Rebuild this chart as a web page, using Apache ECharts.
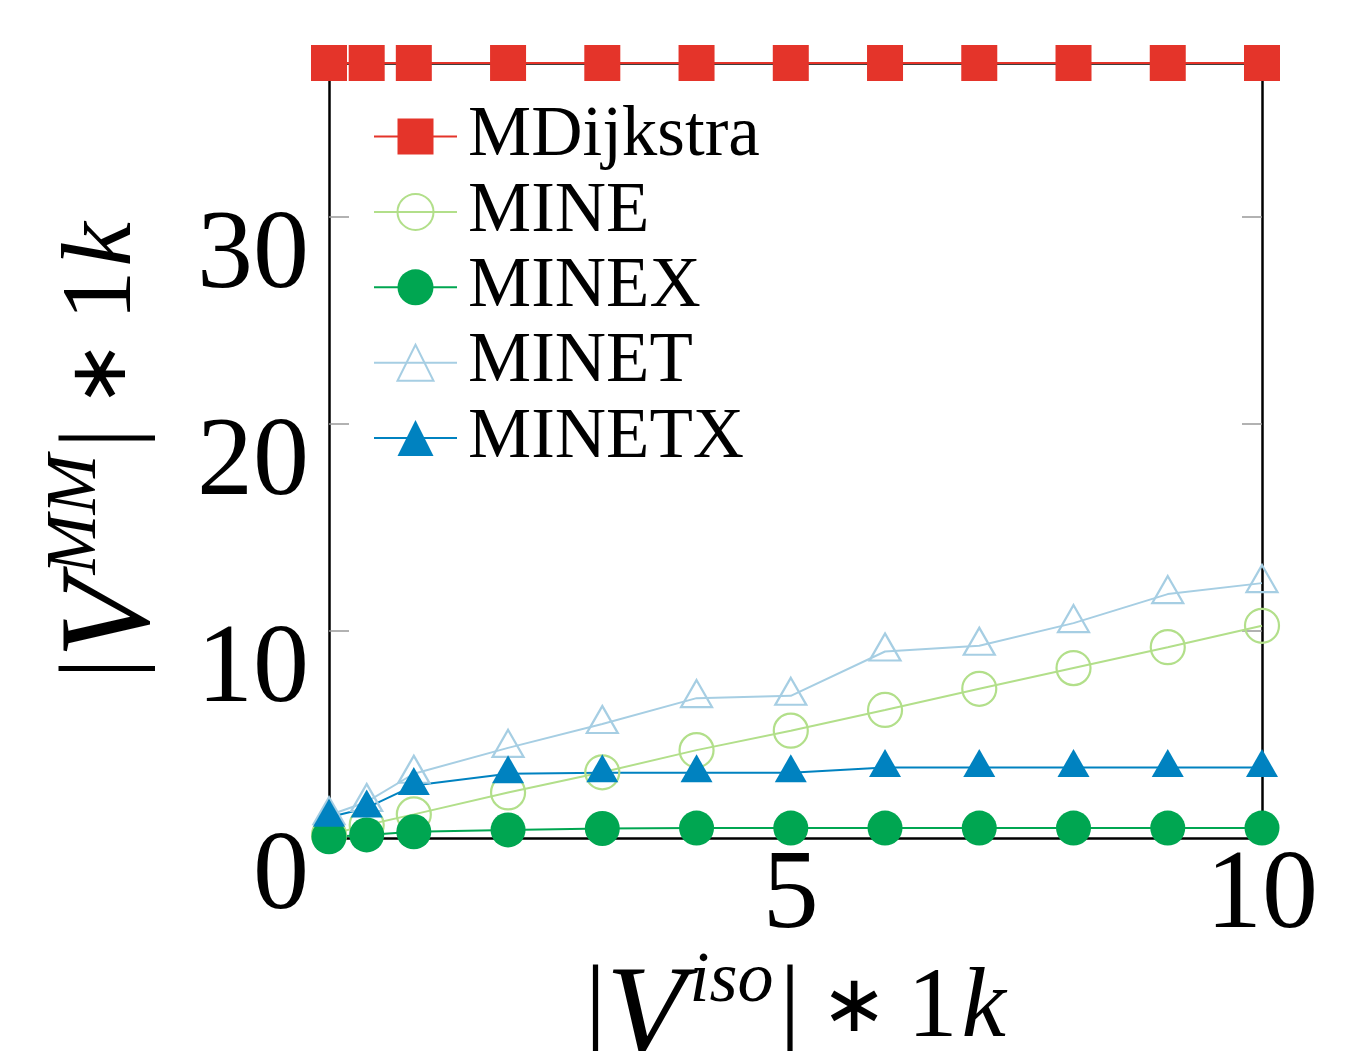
<!DOCTYPE html>
<html>
<head>
<meta charset="utf-8">
<title>MDijkstra vs MINE</title>
<script src="https://cdn.jsdelivr.net/npm/echarts@6/dist/echarts.min.js"></script>
<style>
  html, body { margin: 0; padding: 0; background: #fff; }
  #chart { width: 1370px; height: 1051px; }
</style>
</head>
<body>
<div id="chart"></div>
<script>
// x 值 (|V^iso| * 1k)
var xVals = [0.1, 0.5, 1, 2, 3, 4, 5, 6, 7, 8, 9, 10];
// 各算法的 |V^MM| * 1k
var mdijkstra = [37.4, 37.4, 37.4, 37.4, 37.4, 37.4, 37.4, 37.4, 37.4, 37.4, 37.4, 37.4];
var mine = [0.15, 0.63, 1.14, 2.2, 3.17, 4.24, 5.18, 6.18, 7.2, 8.2, 9.21, 10.24];
var minex = [0.06, 0.15, 0.3, 0.39, 0.46, 0.48, 0.48, 0.48, 0.48, 0.48, 0.48, 0.48];
var minet = [1.1, 1.74, 3.1, 4.35, 5.5, 6.75, 6.86, 9.0, 9.28, 10.37, 11.77, 12.3];
var minetx = [1.0, 1.45, 2.53, 3.1, 3.15, 3.15, 3.15, 3.4, 3.4, 3.4, 3.4, 3.4];
// 刻度
var xLabels = [5, 10];
var yLabels = [0, 10, 20, 30];
var yTicks = [10, 20, 30];

var serif = 'Liberation Serif';

function pairs(ys){
  var out = [];
  for(var i=0;i<xVals.length;i++){
    out.push([xVals[i], ys[i]]);
  }
  return out;
}

function lineSeries(name, ys, color, symbol, size, hollow, offset){
  return {
    name: name,
    type: 'line',
    data: pairs(ys),
    symbol: symbol,
    symbolSize: size,
    symbolOffset: offset || [0, 0],
    showSymbol: true,
    clip: false,
    lineStyle: { color: color, width: 2 },
    itemStyle: hollow ? { color: 'transparent', borderColor: color, borderWidth: 2.2 }
                      : { color: color, borderWidth: 0 }
  };
}

var chart = echarts.init(document.getElementById('chart'), null, { renderer: 'canvas' });

var titleRich = {
  bar: { fontFamily: serif, fontSize: 105, color: '#000' },
  v: { fontFamily: serif, fontStyle: 'italic', fontSize: 130, color: '#000', padding: [20, 0, 0, 0] },
  sup: { fontFamily: serif, fontStyle: 'italic', fontSize: 72, color: '#000', padding: [0, 6, 56, 4] },
  op: { fontFamily: 'DejaVu Sans', fontSize: 80, color: '#000', padding: [0, 20, 0, 20] },
  n: { fontFamily: serif, fontSize: 100, color: '#000' },
  k: { fontFamily: serif, fontStyle: 'italic', fontSize: 100, color: '#000', padding: [0, 0, 0, 4] }
};

var option = {
  animation: false,
  backgroundColor: '#fff',
  grid: { left: 329, right: 108, top: 63, bottom: 213, outerBoundsMode: 'none', containLabel: false },
  legend: {
    orient: 'vertical',
    left: 373,
    top: 101,
    padding: 0,
    itemWidth: 83,
    itemHeight: 45,
    itemGap: 4.4,
    selectedMode: false,
    textStyle: { fontFamily: serif, fontSize: 71, color: '#000', padding: [0, 0, 0, 6] },
    data: ['MDijkstra', 'MINE', 'MINEX', 'MINET', 'MINETX']
  },
  xAxis: [{
    type: 'value',
    min: 0.1,
    max: 10,
    position: 'bottom',
    name: '{bar||}{v|V}{sup|iso}{bar||}{op|∗}{n|1}{k|k}',
    nameLocation: 'middle',
    nameGap: 97,
    nameMoveOverlap: false,
    nameTextStyle: { rich: titleRich },
    axisLine: { show: true, onZero: false, lineStyle: { color: '#000', width: 2.5 } },
    axisTick: { show: false },
    splitLine: { show: false },
    axisLabel: {
      customValues: xLabels,
      fontFamily: serif, fontSize: 112, color: '#000', margin: 4
    }
  }, {
    type: 'value',
    min: 0.1,
    max: 10,
    position: 'top',
    axisLine: { show: true, onZero: false, lineStyle: { color: '#000', width: 2.5 } },
    axisTick: { show: false },
    axisLabel: { show: false },
    splitLine: { show: false }
  }],
  yAxis: [{
    type: 'value',
    min: 0,
    max: 37.4,
    position: 'left',
    name: '{bar||}{v|V}{sup|MM}{bar||}{op|∗}{n|1}{k|k}',
    nameLocation: 'middle',
    nameGap: 150,
    nameMoveOverlap: false,
    nameTextStyle: { rich: titleRich },
    axisLine: { show: true, onZero: false, lineStyle: { color: '#000', width: 2.5 } },
    axisTick: { show: true, inside: true, length: 20, customValues: yTicks, lineStyle: { color: '#999', width: 1.5 } },
    splitLine: { show: false },
    axisLabel: {
      customValues: yLabels,
      fontFamily: serif, fontSize: 112, color: '#000', margin: 20,
      verticalAlign: 'top', lineHeight: 82
    }
  }, {
    type: 'value',
    min: 0,
    max: 37.4,
    position: 'right',
    axisLine: { show: true, onZero: false, lineStyle: { color: '#000', width: 2.5 } },
    axisTick: { show: true, inside: true, length: 20, customValues: yTicks, lineStyle: { color: '#999', width: 1.5 } },
    axisLabel: { show: false },
    splitLine: { show: false }
  }],
  series: [
    lineSeries('MDijkstra', mdijkstra, '#E4342A', 'rect', 36, false),
    lineSeries('MINE', mine, '#B2DF8A', 'circle', 34, true),
    lineSeries('MINEX', minex, '#00A651', 'circle', 35, false),
    lineSeries('MINET', minet, '#A6CEE3', 'triangle', [31, 27], true, [0, -4.5]),
    lineSeries('MINETX', minetx, '#0082C0', 'triangle', [32, 28], false, [0, -4.5])
  ]
};

chart.setOption(option);
</script>
</body>
</html>
